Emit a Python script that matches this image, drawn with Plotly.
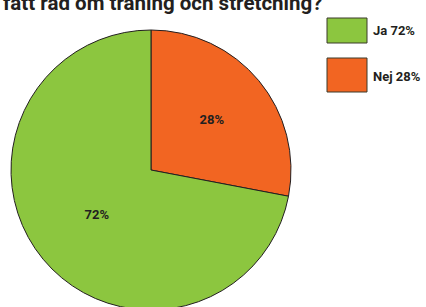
import plotly.graph_objects as go

labels = ["Nej", "Ja"]
values = [28, 72]
colors = ["#F26522", "#8CC63F"]
legend_colors = ["#8CC63F", "#F26522"]
legend_texts = ["Ja 72%", "Nej 28%"]
title_text = "fått råd om träning och stretching?"

W, H = 426, 315
TXT = "#231F20"
FONT = "Roboto"

fig = go.Figure()
fig.add_trace(go.Pie(
    labels=labels, values=values, sort=False, direction="clockwise", rotation=0,
    marker=dict(colors=colors, line=dict(color="#231F20", width=1)),
    texttemplate="%{value}%", textposition="inside", insidetextorientation="horizontal",
    textfont=dict(family=FONT, size=13, color=TXT, weight="bold"),
    domain=dict(x=[11 / W, 291 / W], y=[(H - 310) / H, (H - 30) / H]),
    showlegend=False, hoverinfo="label+percent",
))

shapes = []
annotations = []
box_tops = [18, 58]
box_bots = [43, 92]
label_y = [30, 76]
for i, (c, t) in enumerate(zip(legend_colors, legend_texts)):
    shapes.append(dict(type="rect", xref="paper", yref="paper",
                       x0=327 / W, x1=367 / W, y0=1 - box_bots[i] / H, y1=1 - box_tops[i] / H,
                       fillcolor=c, line=dict(color="#3a3a2a", width=1)))
    annotations.append(dict(text=t, xref="paper", yref="paper", x=371 / W,
                            y=1 - label_y[i] / H,
                            xanchor="left", yanchor="middle", showarrow=False,
                            font=dict(family=FONT, size=13, color=TXT, weight="bold")))

annotations.append(dict(text=title_text, xref="paper", yref="paper", x=1 / W, y=1 - 17 / H,
                        xanchor="left", yanchor="bottom", showarrow=False,
                        font=dict(family=FONT, size=20.5, color=TXT, weight="bold")))

fig.update_layout(width=W, height=H, margin=dict(l=0, r=0, t=0, b=0),
                  paper_bgcolor="white", plot_bgcolor="white",
                  shapes=shapes, annotations=annotations)

fig.write_html("out.html", config={"displayModeBar": False},
               post_script="document.body.style.margin='0';document.body.style.overflow='hidden';")
